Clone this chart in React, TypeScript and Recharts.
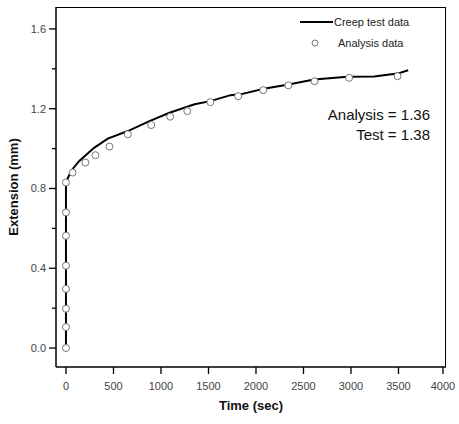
import React from "react";
import {
  ComposedChart,
  Line,
  Scatter,
  XAxis,
  YAxis,
} from "recharts";

// creep test curve (time in sec, extension in mm)
const testTime = [0, 0, 53, 140, 299, 440, 651, 879, 1090, 1354, 1520, 1731, 1836, 2082, 2329, 2610, 2962, 3243, 3385, 3490, 3602];
const testExt = [0, 0.83, 0.888, 0.938, 1.005, 1.05, 1.088, 1.138, 1.18, 1.222, 1.238, 1.268, 1.272, 1.3, 1.32, 1.347, 1.36, 1.362, 1.37, 1.376, 1.393];

// analysis points
const anaTime = [0, 0, 0, 0, 0, 0, 0, 0, 70, 204, 310, 457, 651, 897, 1097, 1277, 1520, 1812, 2076, 2340, 2617, 2980, 3490];
const anaExt = [0, 0.105, 0.197, 0.297, 0.413, 0.563, 0.68, 0.83, 0.88, 0.93, 0.967, 1.01, 1.072, 1.118, 1.16, 1.188, 1.233, 1.263, 1.293, 1.317, 1.338, 1.355, 1.363];

const xTicks = [0, 250, 500, 750, 1000, 1250, 1500, 1750, 2000, 2250, 2500, 2750, 3000, 3250, 3500, 3750, 4000];
const yTicks = [0, 0.2, 0.4, 0.6, 0.8, 1.0, 1.2, 1.4, 1.6];

const creep = testTime.map((t, i) => ({ t, v: testExt[i] }));
const analysis = anaTime.map((t, i) => ({ t, v: anaExt[i] }));

const FONT = "'Liberation Sans', Arial, sans-serif";

// default tickSize 6 + tickMargin 2: anchor sits 8px off the axis line
const XTick = (props: any) => {
  const { x, payload } = props;
  const y = props.y - 8;
  const major = payload.value % 500 === 0;
  return (
    <g>
      <line x1={x} x2={x} y1={y} y2={y + (major ? 7 : 4)} stroke="#000" strokeWidth={1.3} />
      {major && (
        <text x={x} y={y + 23} textAnchor="middle" fontSize={11} fill="#444" fontFamily={FONT}>
          {payload.value}
        </text>
      )}
    </g>
  );
};

const YTick = (props: any) => {
  const { payload } = props;
  const x = props.x + 8;
  const y = props.y;
  const major = Math.round(payload.value * 10) % 4 === 0;
  return (
    <g>
      <line x1={x} x2={x - (major ? 7 : 4)} y1={y} y2={y} stroke="#000" strokeWidth={1.3} />
      {major && (
        <text x={x - 10} y={y + 4} textAnchor="end" fontSize={11} fill="#444" fontFamily={FONT}>
          {payload.value.toFixed(1)}
        </text>
      )}
    </g>
  );
};

const Ring = (props: any) => (
  <circle cx={props.cx} cy={props.cy} r={3.5} fill="#fff" stroke="#777" strokeWidth={1} />
);

export default function App() {
  return (
    <div style={{ position: "absolute", left: 0, top: 0, width: 459, height: 424, background: "#fff" }}>
      <ComposedChart width={459} height={424} margin={{ top: 7, right: 13, bottom: 0, left: 0 }}>
        <XAxis
          dataKey="t"
          type="number"
          domain={[-105, 4000]}
          ticks={xTicks}
          allowDataOverflow
          height={57}
          axisLine={{ stroke: "#000", strokeWidth: 1.5 }}
          tickLine={false}
          tick={<XTick />}
          label={{
            content: () => (
              <text x={251} y={410} textAnchor="middle" fontSize={13} fontWeight="bold" fill="#111" fontFamily={FONT}>
                Time (sec)
              </text>
            ),
          }}
        />
        <YAxis
          dataKey="v"
          type="number"
          domain={[-0.095, 1.71]}
          ticks={yTicks}
          allowDataOverflow
          width={56}
          axisLine={{ stroke: "#000", strokeWidth: 1.5 }}
          tickLine={false}
          tick={<YTick />}
          label={{
            content: () => (
              <text x={18} y={187} textAnchor="middle" fontSize={13} fontWeight="bold" fill="#111" fontFamily={FONT} transform="rotate(-90 18 187)">
                Extension (mm)
              </text>
            ),
          }}
        />
        <Line
          data={creep}
          dataKey="v"
          type="linear"
          stroke="#000"
          strokeWidth={2}
          dot={false}
          isAnimationActive={false}
        />
        <Scatter data={analysis} dataKey="v" shape={<Ring />} isAnimationActive={false} />
      </ComposedChart>
      {/* frame around the plot area */}
      <div style={{ position: "absolute", left: 56, top: 7, width: 390, height: 360, boxSizing: "border-box", borderTop: "1.5px solid #000", borderRight: "1.5px solid #000", pointerEvents: "none" }} />
      <svg width={140} height={40} style={{ position: "absolute", left: 298, top: 12 }}>
        <line x1={2} x2={35} y1={10} y2={10} stroke="#000" strokeWidth={2} />
        <text x={36} y={14} fontSize={11} fill="#222" fontFamily={FONT}>Creep test data</text>
        <circle cx={17} cy={31} r={3} fill="#fff" stroke="#777" />
        <text x={40} y={35} fontSize={11} fill="#222" fontFamily={FONT}>Analysis data</text>
      </svg>
      <div style={{ position: "absolute", right: 29, top: 105, fontSize: 15, fontFamily: FONT, color: "#111", textAlign: "right", lineHeight: "20px" }}>
        <div>Analysis = 1.36</div>
        <div>Test = 1.38</div>
      </div>
    </div>
  );
}
